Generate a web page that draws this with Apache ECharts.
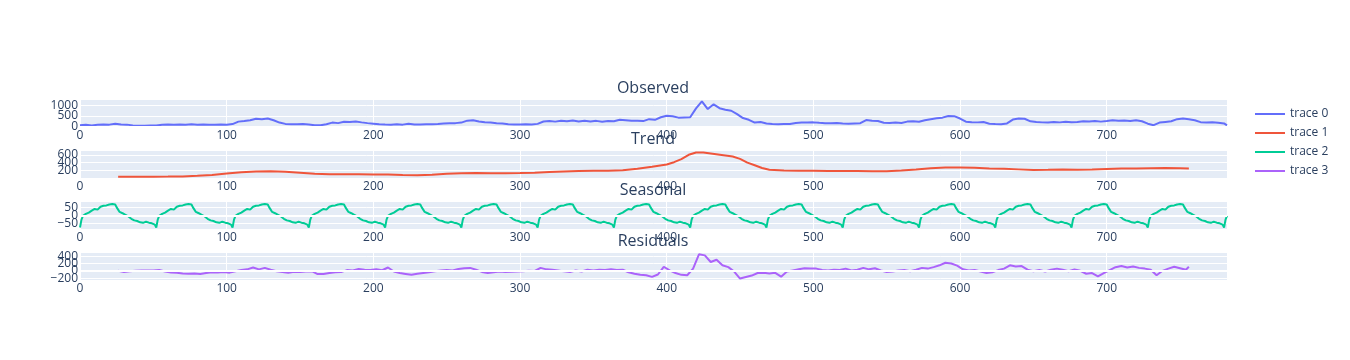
<!DOCTYPE html>
<html><head><meta charset="utf-8">
<script src="https://cdn.jsdelivr.net/npm/echarts@6/dist/echarts.min.js"></script>
<style>html,body{margin:0;padding:0;background:#fff}#c{width:1350px;height:360px}</style>
</head><body><div id="c"></div><script>
// ---- data ----
const xMax = 782;
const xTicks = [0, 100, 200, 300, 400, 500, 600, 700];

// Observed: one value every 4 steps (0,4,...,780) plus the last step 782
const obsStep = 4;
const observed = [
  70, 90, 60, 85, 100, 95, 140, 100, 95, 55,
  45, 48, 50, 52, 90, 100, 85, 100, 95, 110,
  90, 100, 85, 95, 105, 90, 120, 235, 265, 300,
  370, 345, 380, 300, 190, 130, 115, 110, 120, 100,
  70, 65, 115, 190, 165, 225, 215, 245, 200, 165,
  140, 115, 100, 95, 110, 95, 135, 105, 100, 115,
  115, 130, 150, 160, 165, 190, 280, 300, 245, 205,
  190, 160, 150, 115, 105, 100, 110, 100, 130, 240,
  260, 235, 280, 255, 290, 245, 275, 240, 270, 230,
  265, 250, 320, 300, 270, 280, 260, 350, 320, 440,
  510, 480, 420, 430, 440, 850, 1180, 820, 1040, 860,
  790, 740, 580, 400, 320, 190, 220, 150, 125, 115,
  130, 120, 170, 190, 195, 200, 180, 165, 160, 175,
  150, 140, 150, 160, 310, 275, 265, 185, 170, 190,
  175, 235, 250, 230, 300, 350, 390, 420, 500, 490,
  380, 230, 210, 200, 215, 140, 120, 115, 150, 330,
  380, 370, 250, 215, 200, 190, 215, 200, 225, 205,
  215, 250, 240, 265, 235, 260, 300, 270, 285, 265,
  300, 250, 140, 70, 190, 220, 250, 350, 375, 340,
  300, 210, 190, 205, 180, 150, 60
];

// Trend (smooth, defined from 26 to 756)
const trendX = [26,40,50,60,70,80,90,100,110,120,130,140,150,160,170,180,190,200,210,220,230,240,250,260,270,280,290,300,310,320,330,340,350,360,370,380,390,400,405,410,415,420,425,430,435,440,445,450,455,460,465,470,480,490,500,510,520,530,540,550,560,570,580,590,600,610,620,630,640,650,660,670,680,690,700,710,720,730,740,750,756];
const trendY = [38,38,38,39,42,60,80,118,150,170,174,165,140,112,100,98,98,96,90,80,72,85,112,125,130,128,128,130,140,155,170,180,188,192,200,240,290,350,410,490,600,660,660,635,610,585,555,495,400,330,260,215,195,190,188,185,183,180,178,178,195,220,255,275,275,265,250,240,225,210,215,225,215,220,235,245,250,255,258,252,245];

// Seasonal: one measured 52-step period; the component repeats it exactly
const seasonalPeriod = [-74,-25,-2,6,10,8,18,22,30,26,40,50,36,46,54,58,60,56,62,74,68,64,70,62,68,50,36,22,24,14,10,4,0,-6,-12,-20,-24,-30,-40,-34,-38,-42,-38,-45,-34,-38,-40,-44,-42,-48,-50,-56];

// Residuals: one value every 4 steps from 26 (26,30,...,754) plus 756
const residStart = 26, residStep = 4, residEnd = 756;
const residual = [
  0, -30, -10, 5, 8, 10, 12, 20, -20, -45,
  -50, -70, -80, -75, -85, -60, -40, -45, -30, -50,
  -10, 20, 40, 90, 40, 80, 30, -10, -30, -50,
  -25, -30, -20, -10, -90, -85, -60, -40, -35, 20,
  10, 50, 30, 20, 40, 15, 90, -20, -60, -85,
  -110, -80, -60, -40, -10, 10, 20, 10, 50, 70,
  80, 30, -30, -60, -40, -20, -30, -25, -20, -10,
  0, -5, 80, 40, 30, 10, -15, -30, 10, -20,
  30, 10, 30, 20, 40, 20, 30, -40, -80, -110,
  -120, -165, -100, 110, 10, -60, -110, -120, 60, 450,
  420, 240, 300, 150, 100, -20, -210, -170, -130, -60,
  -50, -70, -55, -160, -20, 10, 40, 70, 60, 60,
  20, 10, 30, 20, 60, 10, 30, 80, 40, 70,
  10, -30, -20, 10, 20, -10, 30, 80, 60, 100,
  150, 220, 200, 140, 40, 10, 20, -20, -60, -40,
  20, 60, 150, 120, 130, 30, -10, 20, -20, 30,
  60, 30, -10, 40, 0, -80, -60, -150, -60, 20,
  100, 130, 90, 120, 80, 60, 30, -120, 0, 60,
  110, 70, 30, 110
];

const titles = ['Observed', 'Trend', 'Seasonal', 'Residuals'];
const names = ['trace 0', 'trace 1', 'trace 2', 'trace 3'];
const yTicks = [[0, 500, 1000], [200, 400, 600], [-50, 0, 50], [-200, 0, 200, 400]];
const yRanges = [[-15, 1240], [3, 698], [-83, 83], [-250, 485]];

// ---- build series data ----
const obsData = observed.map((v, i) => [Math.min(i * obsStep, xMax), v]);
const trendData = trendX.map((x, i) => [x, trendY[i]]);
const seasData = [];
for (let i = 0; i <= xMax; i++) seasData.push([i, seasonalPeriod[i % seasonalPeriod.length]]);
const residData = residual.map((v, i) => [Math.min(residStart + i * residStep, residEnd), v]);
const allData = [obsData, trendData, seasData, residData];

// ---- style / layout ----
const FONT = '"Open Sans", verdana, arial, sans-serif';
const TXT = '#2a3f5f';
const colors = ['#636efa', '#EF553B', '#00cc96', '#ab63fa'];
const gridTops = [100, 151, 202, 253];
const gridH = 27;
const fmt = v => (v < 0 ? '\u2212' + Math.abs(v) : String(v));

const yAxes = [];
const mainY = [];
gridTops.forEach((t, i) => {
  mainY.push(yAxes.length);
  yAxes.push({
    type: 'value', gridIndex: i, min: yRanges[i][0], max: yRanges[i][1],
    axisLine: { show: false },
    axisTick: { show: false, customValues: yTicks[i] },
    axisLabel: { show: false },
    splitLine: { show: true, lineStyle: { color: '#ffffff', width: 1 } }
  });
  // one label-only axis per tick so that close labels are all kept
  yTicks[i].forEach(v => {
    yAxes.push({
      type: 'value', gridIndex: i, position: 'left', offset: 0,
      min: yRanges[i][0], max: yRanges[i][1],
      axisLine: { show: false },
      axisTick: { show: false, customValues: [v] },
      splitLine: { show: false },
      axisLabel: { customValues: [v], formatter: fmt, color: TXT, fontSize: 12, fontFamily: FONT,
                   margin: 2, showMinLabel: true, showMaxLabel: true }
    });
  });
});

const option = {
  animation: false,
  backgroundColor: '#fff',
  title: titles.map((t, i) => ({
    text: t, left: 653, top: gridTops[i] - 20, textAlign: 'center', padding: 0,
    textStyle: { fontSize: 16, fontWeight: 'normal', color: TXT, fontFamily: FONT }
  })),
  legend: {
    orient: 'vertical', left: 1255, top: 107, padding: 0,
    itemWidth: 30, itemHeight: 2, itemGap: 5, icon: 'rect',
    data: names,
    textStyle: { color: TXT, fontSize: 12, fontFamily: FONT, lineHeight: 14 }
  },
  grid: gridTops.map(t => ({
    left: 80, width: 1147, top: t, height: gridH,
    show: true, backgroundColor: '#E5ECF6', borderWidth: 0
  })),
  xAxis: gridTops.map((t, i) => ({
    type: 'value', gridIndex: i, min: 0, max: xMax,
    axisLine: { show: false },
    axisTick: { show: false, customValues: xTicks },
    axisLabel: { customValues: xTicks, color: TXT, fontSize: 12, fontFamily: FONT, margin: 3,
                 showMinLabel: true, showMaxLabel: true },
    splitLine: { show: true, lineStyle: { color: '#ffffff', width: 1 } }
  })),
  yAxis: yAxes,
  series: []
};

// zero lines (drawn below data)
[0, 2, 3].forEach(i => {
  option.series.push({
    type: 'line', xAxisIndex: i, yAxisIndex: mainY[i], data: [], z: 1, silent: true,
    markLine: {
      silent: true, symbol: 'none', animation: false, label: { show: false },
      lineStyle: { color: '#ffffff', width: 2, type: 'solid' },
      emphasis: { disabled: true },
      data: [{ yAxis: 0 }]
    }
  });
});

allData.forEach((d, i) => {
  option.series.push({
    name: names[i], type: 'line', xAxisIndex: i, yAxisIndex: mainY[i],
    data: d, symbol: 'none', showSymbol: false, z: 3,
    color: colors[i],
    lineStyle: { color: colors[i], width: 2 },
    itemStyle: { color: colors[i] }
  });
});

const chart = echarts.init(document.getElementById('c'), null, { renderer: 'canvas' });
chart.setOption(option);
</script></body></html>
